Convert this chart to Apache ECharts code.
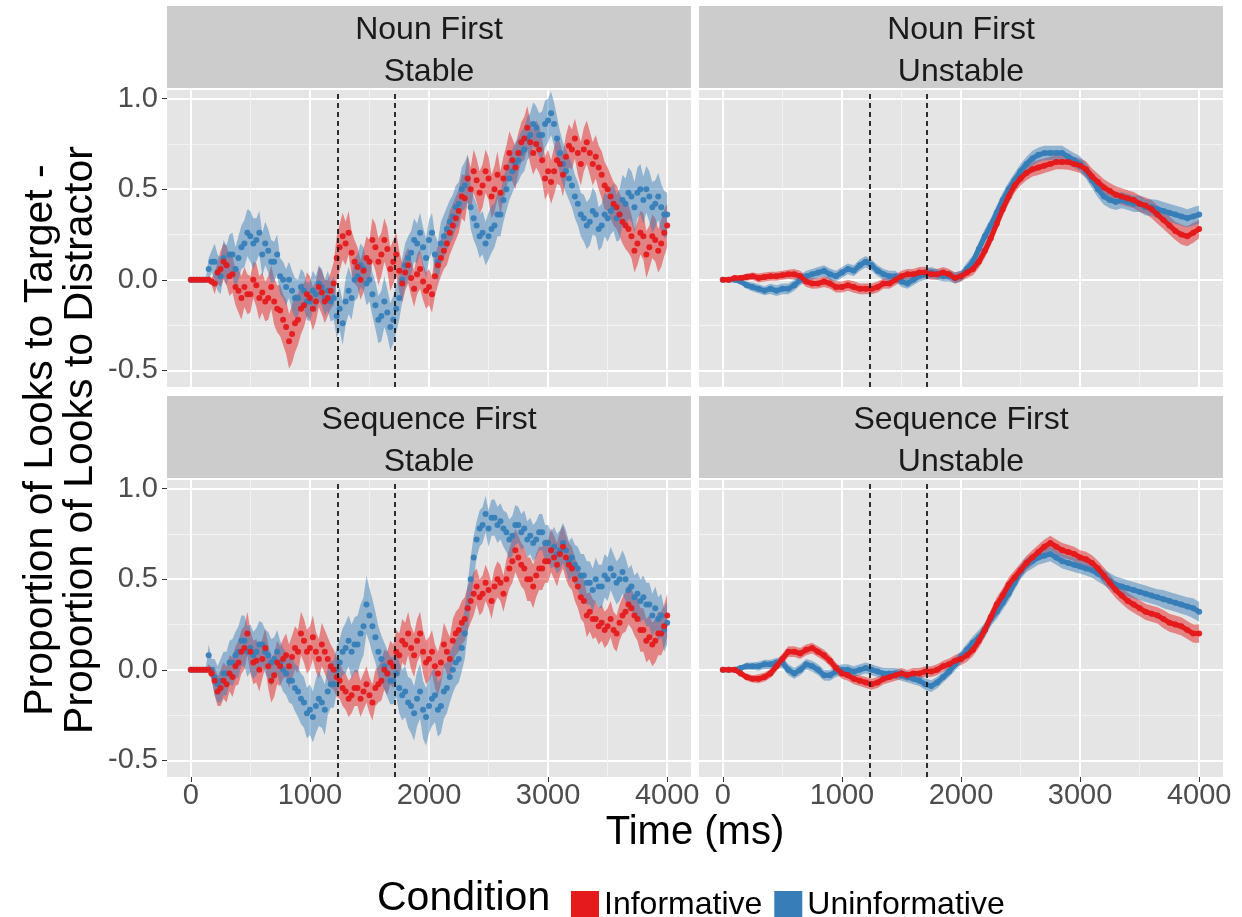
<!DOCTYPE html>
<html><head><meta charset="utf-8">
<script src="https://cdn.jsdelivr.net/npm/echarts@6/dist/echarts.min.js"></script>
<style>html,body{margin:0;padding:0;background:#fff}#chart{width:1242px;height:917px}</style>
</head><body><div id="chart"></div>
<script>
// ---------------- DATA ----------------
// 50 ms samples (Unstable panels, and CI widths of Stable panels)
const times = [0,50,100,150,200,250,300,350,400,450,
  500,550,600,650,700,750,800,850,900,950,
  1000,1050,1100,1150,1200,1250,1300,1350,1400,1450,
  1500,1550,1600,1650,1700,1750,1800,1850,1900,1950,
  2000,2050,2100,2150,2200,2250,2300,2350,2400,2450,
  2500,2550,2600,2650,2700,2750,2800,2850,2900,2950,
  3000,3050,3100,3150,3200,3250,3300,3350,3400,3450,
  3500,3550,3600,3650,3700,3750,3800,3850,3900,3950,
  4000];
// 25 ms samples (Stable panels)
const timesFine = [0,25,50,75,100,125,150,175,
  200,225,250,275,300,325,350,375,
  400,425,450,475,500,525,550,575,
  600,625,650,675,700,725,750,775,
  800,825,850,875,900,925,950,975,
  1000,1025,1050,1075,1100,1125,1150,1175,
  1200,1225,1250,1275,1300,1325,1350,1375,
  1400,1425,1450,1475,1500,1525,1550,1575,
  1600,1625,1650,1675,1700,1725,1750,1775,
  1800,1825,1850,1875,1900,1925,1950,1975,
  2000,2025,2050,2075,2100,2125,2150,2175,
  2200,2225,2250,2275,2300,2325,2350,2375,
  2400,2425,2450,2475,2500,2525,2550,2575,
  2600,2625,2650,2675,2700,2725,2750,2775,
  2800,2825,2850,2875,2900,2925,2950,2975,
  3000,3025,3050,3075,3100,3125,3150,3175,
  3200,3225,3250,3275,3300,3325,3350,3375,
  3400,3425,3450,3475,3500,3525,3550,3575,
  3600,3625,3650,3675,3700,3725,3750,3775,
  3800,3825,3850,3875,3900,3925,3950,3975,
  4000];
const xTicks = [0,1000,2000,3000,4000];
const yTicks = [-0.5,0,0.5,1.0];
const markerTimes = [1230,1715];
const orderLabels = ['Noun First','Noun First','Sequence First','Sequence First'];
const stabilityLabels = ['Stable','Unstable','Stable','Unstable'];
const conditionNames = ['Informative','Uninformative'];

// Noun First / Stable (25 ms)
const nfsInf = [0,0,0,0,0,0,0,-0.01,
  -0.02,0.04,0.06,0.1,0.08,0.02,0.03,-0.04,
  -0.06,-0.1,-0.04,-0.08,-0.08,0.0,-0.03,-0.1,
  -0.07,-0.12,-0.1,-0.04,-0.12,-0.16,-0.17,-0.22,
  -0.26,-0.34,-0.3,-0.24,-0.22,-0.16,-0.14,-0.08,
  -0.1,-0.16,-0.12,-0.04,-0.07,-0.12,-0.1,-0.06,
  -0.02,0.12,0.18,0.24,0.2,0.26,0.15,0.1,
  0.07,0.0,0.05,0.12,0.1,0.22,0.18,0.1,
  0.14,0.22,0.17,0.06,0.1,0.14,0.05,-0.02,
  0.04,0.08,0.01,-0.05,0.03,0.06,-0.01,-0.06,
  -0.04,-0.08,0.02,0.08,0.12,0.16,0.2,0.26,
  0.3,0.34,0.38,0.46,0.45,0.56,0.5,0.6,
  0.55,0.48,0.52,0.6,0.56,0.46,0.5,0.58,
  0.48,0.56,0.62,0.7,0.66,0.62,0.7,0.76,
  0.78,0.84,0.76,0.7,0.75,0.72,0.66,0.56,
  0.6,0.54,0.6,0.66,0.64,0.58,0.68,0.74,
  0.72,0.78,0.7,0.64,0.72,0.76,0.7,0.64,
  0.68,0.62,0.58,0.52,0.5,0.46,0.42,0.4,
  0.36,0.32,0.3,0.28,0.24,0.16,0.2,0.26,
  0.24,0.14,0.18,0.24,0.22,0.16,0.2,0.26,
  0.3];
const nfsInfCI = [0,0,0,0.02,0.06,0.1,0.11,0.1,0.12,0.11,
  0.1,0.12,0.11,0.12,0.13,0.14,0.15,0.16,0.14,0.12,
  0.12,0.11,0.12,0.1,0.12,0.13,0.12,0.12,0.11,0.12,
  0.12,0.13,0.12,0.12,0.12,0.11,0.1,0.1,0.11,0.1,
  0.1,0.11,0.1,0.12,0.12,0.12,0.13,0.12,0.12,0.12,
  0.12,0.13,0.12,0.12,0.12,0.11,0.12,0.12,0.13,0.12,
  0.12,0.13,0.12,0.12,0.11,0.12,0.12,0.12,0.12,0.13,
  0.12,0.12,0.12,0.13,0.12,0.12,0.13,0.12,0.12,0.13,
  0.12];
const nfsUninf = [0,0,0,0,0,0,0.06,0.1,
  0.1,0.04,0.02,0.12,0.08,0.14,0.14,0.06,
  0.12,0.18,0.2,0.26,0.24,0.2,0.22,0.26,
  0.14,0.2,0.16,0.1,0.1,0.14,0.02,0.0,
  -0.04,0.0,-0.06,-0.1,-0.1,-0.04,-0.06,-0.12,
  -0.12,-0.06,-0.08,-0.02,-0.04,-0.1,-0.06,-0.12,
  -0.1,-0.2,-0.16,-0.24,-0.12,-0.06,-0.1,0.0,
  0.02,0.08,0.06,-0.02,0.0,-0.08,-0.14,-0.22,
  -0.2,-0.12,-0.18,-0.26,-0.22,-0.16,-0.1,0.0,
  0.08,0.12,0.15,0.22,0.2,0.26,0.18,0.12,
  0.22,0.26,0.14,0.1,0.2,0.24,0.28,0.32,
  0.35,0.4,0.42,0.5,0.52,0.56,0.4,0.34,
  0.3,0.24,0.26,0.2,0.24,0.28,0.3,0.36,
  0.36,0.44,0.5,0.56,0.6,0.64,0.66,0.7,
  0.72,0.78,0.8,0.86,0.84,0.8,0.8,0.86,
  0.88,0.92,0.86,0.78,0.7,0.64,0.6,0.56,
  0.52,0.46,0.42,0.36,0.34,0.3,0.32,0.38,
  0.36,0.28,0.3,0.36,0.34,0.38,0.4,0.34,
  0.36,0.44,0.42,0.48,0.46,0.4,0.48,0.5,
  0.44,0.5,0.46,0.4,0.42,0.46,0.4,0.36,
  0.36];
const nfsUninfCI = [0,0,0,0.06,0.1,0.1,0.11,0.12,0.12,0.13,
  0.14,0.12,0.12,0.12,0.11,0.1,0.1,0.11,0.1,0.1,
  0.11,0.1,0.1,0.11,0.12,0.12,0.13,0.12,0.12,0.12,
  0.12,0.13,0.14,0.13,0.13,0.12,0.12,0.12,0.11,0.11,
  0.11,0.11,0.12,0.12,0.12,0.12,0.13,0.12,0.12,0.12,
  0.13,0.12,0.12,0.12,0.12,0.12,0.12,0.12,0.12,0.13,
  0.12,0.12,0.12,0.12,0.12,0.12,0.13,0.13,0.12,0.12,
  0.13,0.13,0.14,0.14,0.14,0.14,0.13,0.14,0.13,0.13,
  0.12];

// Noun First / Unstable (50 ms)
const nfuInf = [0,0,0.01,0.01,0.015,0.02,0.01,0.015,0.02,0.02,
  0.025,0.03,0.03,0.02,-0.01,-0.02,-0.02,-0.01,-0.02,-0.04,
  -0.04,-0.03,-0.04,-0.05,-0.05,-0.05,-0.04,-0.02,-0.02,0.0,
  0.02,0.03,0.03,0.04,0.04,0.03,0.03,0.04,0.03,0.01,
  0.02,0.04,0.06,0.1,0.16,0.23,0.31,0.39,0.46,0.52,
  0.56,0.59,0.61,0.62,0.63,0.64,0.65,0.65,0.65,0.64,
  0.63,0.61,0.57,0.54,0.51,0.49,0.47,0.46,0.45,0.44,
  0.42,0.41,0.39,0.36,0.33,0.3,0.27,0.25,0.24,0.26,
  0.28];
const nfuInfCI = [0,0,0.01,0.015,0.02,0.02,0.025,0.025,0.025,0.025,
  0.025,0.025,0.03,0.03,0.03,0.03,0.028,0.03,0.03,0.03,
  0.03,0.03,0.032,0.03,0.03,0.03,0.03,0.028,0.03,0.03,
  0.03,0.03,0.03,0.03,0.032,0.03,0.03,0.03,0.03,0.03,
  0.03,0.03,0.035,0.035,0.04,0.04,0.04,0.04,0.042,0.04,
  0.04,0.04,0.04,0.042,0.04,0.04,0.04,0.04,0.042,0.04,
  0.04,0.045,0.045,0.045,0.045,0.045,0.046,0.045,0.045,0.045,
  0.045,0.045,0.05,0.05,0.05,0.05,0.05,0.055,0.055,0.055,
  0.05];
const nfuUninf = [0,0,0,-0.01,-0.03,-0.04,-0.05,-0.06,-0.05,-0.06,
  -0.05,-0.05,-0.03,0.0,0.02,0.03,0.04,0.05,0.03,0.02,
  0.04,0.06,0.05,0.08,0.1,0.08,0.05,0.03,0.02,0.02,
  -0.01,-0.02,0.0,0.02,0.03,0.04,0.03,0.02,0.02,0.01,
  0.02,0.06,0.1,0.17,0.24,0.3,0.37,0.44,0.5,0.55,
  0.6,0.64,0.67,0.69,0.7,0.7,0.7,0.7,0.68,0.66,
  0.64,0.6,0.55,0.5,0.46,0.44,0.43,0.44,0.43,0.42,
  0.42,0.4,0.4,0.39,0.38,0.37,0.36,0.35,0.34,0.35,
  0.36];
const nfuUninfCI = [0,0,0.01,0.015,0.02,0.025,0.025,0.025,0.028,0.03,
  0.03,0.03,0.03,0.03,0.03,0.03,0.03,0.03,0.032,0.03,
  0.03,0.03,0.03,0.032,0.032,0.03,0.03,0.03,0.03,0.03,
  0.03,0.03,0.03,0.03,0.03,0.03,0.03,0.03,0.03,0.03,
  0.03,0.035,0.035,0.04,0.04,0.04,0.042,0.04,0.04,0.04,
  0.04,0.04,0.042,0.04,0.04,0.04,0.04,0.04,0.04,0.04,
  0.042,0.042,0.045,0.045,0.045,0.045,0.045,0.045,0.045,0.045,
  0.045,0.045,0.045,0.05,0.05,0.05,0.05,0.05,0.05,0.05,
  0.05];

// Sequence First / Stable (25 ms)
const sfsInf = [0,0,0,0,0,0,0,-0.02,
  -0.06,-0.12,-0.1,-0.06,-0.08,-0.02,-0.04,0.02,
  0.04,0.1,0.12,0.2,0.1,0.04,0.05,0.0,
  0.06,0.12,0.02,-0.06,-0.03,0.04,0.02,0.06,
  0.08,0.02,0.07,0.12,0.1,0.2,0.16,0.1,
  0.12,0.18,0.1,0.06,0.14,0.1,0.06,0.02,
  0.0,-0.04,-0.06,-0.1,-0.12,-0.16,-0.14,-0.1,
  -0.1,-0.16,-0.12,-0.08,-0.14,-0.18,-0.1,-0.08,
  -0.06,0.0,-0.02,0.04,0.02,0.1,0.08,0.16,
  0.14,0.2,0.12,0.08,0.16,0.2,0.1,0.04,
  0.06,0.1,0.02,-0.02,0.04,0.14,0.1,0.06,
  0.16,0.2,0.22,0.26,0.28,0.34,0.38,0.42,
  0.46,0.4,0.42,0.48,0.44,0.38,0.46,0.5,
  0.48,0.42,0.5,0.56,0.6,0.66,0.62,0.58,
  0.56,0.5,0.5,0.46,0.52,0.56,0.56,0.6,
  0.6,0.66,0.62,0.58,0.64,0.68,0.62,0.58,
  0.56,0.5,0.46,0.4,0.38,0.3,0.32,0.28,
  0.28,0.24,0.26,0.22,0.24,0.28,0.22,0.2,
  0.26,0.3,0.32,0.36,0.34,0.3,0.28,0.22,
  0.22,0.16,0.18,0.14,0.16,0.2,0.2,0.24,
  0.3];
const sfsInfCI = [0,0,0,0.03,0.08,0.1,0.1,0.11,0.12,0.12,
  0.12,0.12,0.11,0.12,0.12,0.11,0.12,0.12,0.12,0.12,
  0.12,0.11,0.12,0.12,0.11,0.1,0.1,0.1,0.1,0.1,
  0.1,0.1,0.11,0.12,0.12,0.12,0.12,0.12,0.12,0.12,
  0.12,0.12,0.12,0.12,0.12,0.12,0.12,0.12,0.1,0.1,
  0.1,0.1,0.1,0.11,0.12,0.12,0.12,0.12,0.12,0.12,
  0.12,0.12,0.12,0.12,0.12,0.12,0.12,0.11,0.1,0.1,
  0.1,0.1,0.1,0.11,0.11,0.12,0.12,0.12,0.12,0.12,
  0.12];
const sfsUninf = [0,0,0,0,0,0,0.08,0.0,
  -0.04,-0.08,-0.06,-0.02,-0.02,0.04,0.04,0.08,
  0.1,0.16,0.16,0.1,0.12,0.08,0.1,0.14,
  0.14,0.1,0.08,0.04,0.06,0.1,0.04,0.0,
  -0.02,-0.06,-0.06,-0.1,-0.12,-0.16,-0.18,-0.24,
  -0.22,-0.26,-0.2,-0.16,-0.18,-0.22,-0.12,-0.08,
  -0.08,0.0,0.04,0.1,0.12,0.16,0.1,0.14,
  0.14,0.2,0.24,0.36,0.3,0.24,0.18,0.1,
  0.06,0.02,-0.02,-0.06,-0.06,-0.02,-0.1,-0.14,
  -0.12,-0.18,-0.2,-0.24,-0.16,-0.12,-0.22,-0.26,
  -0.2,-0.16,-0.14,-0.22,-0.2,-0.12,-0.1,-0.04,
  0.0,0.04,0.06,0.12,0.2,0.34,0.5,0.62,
  0.72,0.78,0.8,0.86,0.78,0.84,0.84,0.8,
  0.82,0.78,0.76,0.72,0.74,0.8,0.8,0.76,
  0.78,0.72,0.74,0.7,0.72,0.76,0.76,0.7,
  0.7,0.66,0.68,0.64,0.66,0.7,0.66,0.6,
  0.62,0.58,0.56,0.52,0.52,0.48,0.48,0.44,
  0.5,0.46,0.46,0.52,0.5,0.56,0.52,0.48,
  0.5,0.54,0.5,0.44,0.46,0.4,0.42,0.38,
  0.4,0.36,0.36,0.3,0.34,0.28,0.3,0.22,
  0.26];
const sfsUninfCI = [0,0,0,0.06,0.1,0.12,0.12,0.13,0.14,0.14,
  0.13,0.13,0.12,0.13,0.12,0.12,0.12,0.13,0.14,0.14,
  0.14,0.15,0.14,0.13,0.13,0.13,0.14,0.15,0.16,0.16,
  0.15,0.14,0.13,0.13,0.13,0.14,0.14,0.15,0.15,0.16,
  0.15,0.15,0.15,0.14,0.13,0.13,0.14,0.12,0.1,0.1,
  0.1,0.1,0.1,0.11,0.11,0.1,0.1,0.1,0.1,0.1,
  0.1,0.11,0.11,0.11,0.11,0.12,0.12,0.12,0.12,0.12,
  0.12,0.12,0.12,0.12,0.12,0.12,0.12,0.12,0.12,0.12,
  0.12];

// Sequence First / Unstable (50 ms)
const sfuInf = [0,0,0,-0.02,-0.04,-0.05,-0.05,-0.04,-0.02,0.02,
  0.06,0.1,0.1,0.09,0.11,0.12,0.1,0.08,0.05,0.01,
  -0.02,-0.03,-0.05,-0.06,-0.07,-0.08,-0.07,-0.05,-0.04,-0.03,
  -0.02,-0.03,-0.02,-0.02,-0.01,-0.01,0.0,0.02,0.03,0.05,
  0.06,0.08,0.11,0.16,0.22,0.29,0.36,0.41,0.47,0.51,
  0.55,0.59,0.62,0.65,0.68,0.7,0.68,0.66,0.65,0.64,
  0.62,0.61,0.59,0.56,0.52,0.48,0.44,0.41,0.38,0.36,
  0.34,0.32,0.31,0.3,0.28,0.26,0.25,0.24,0.22,0.2,
  0.2];
const sfuInfCI = [0,0,0.01,0.015,0.02,0.02,0.025,0.025,0.025,0.03,
  0.03,0.03,0.03,0.03,0.03,0.03,0.03,0.03,0.03,0.03,
  0.03,0.03,0.03,0.03,0.03,0.03,0.03,0.03,0.03,0.03,
  0.03,0.03,0.03,0.03,0.03,0.03,0.03,0.03,0.032,0.032,
  0.035,0.035,0.035,0.04,0.04,0.04,0.04,0.04,0.04,0.04,
  0.04,0.04,0.04,0.04,0.04,0.04,0.04,0.04,0.04,0.04,
  0.04,0.042,0.042,0.042,0.045,0.045,0.045,0.045,0.045,0.045,
  0.045,0.045,0.045,0.045,0.05,0.05,0.05,0.05,0.05,0.05,
  0.05];
const sfuUninf = [0,0,0,0.01,0.02,0.02,0.02,0.03,0.03,0.04,
  0.04,0.0,-0.02,0.0,0.03,0.02,0.0,-0.03,-0.03,-0.01,
  0.0,0.0,-0.01,0.0,0.01,0.0,-0.01,-0.02,-0.02,-0.02,
  -0.03,-0.04,-0.05,-0.06,-0.08,-0.09,-0.07,-0.04,-0.01,0.03,
  0.07,0.11,0.15,0.18,0.22,0.28,0.32,0.37,0.42,0.48,
  0.54,0.58,0.6,0.62,0.63,0.64,0.62,0.6,0.59,0.58,
  0.57,0.56,0.55,0.53,0.51,0.49,0.47,0.46,0.45,0.44,
  0.43,0.42,0.41,0.4,0.39,0.38,0.37,0.36,0.35,0.34,
  0.32];
const sfuUninfCI = [0,0,0.01,0.015,0.02,0.02,0.025,0.025,0.025,0.025,
  0.03,0.03,0.03,0.03,0.03,0.03,0.03,0.03,0.03,0.03,
  0.03,0.03,0.03,0.03,0.03,0.03,0.03,0.03,0.03,0.03,
  0.03,0.03,0.03,0.03,0.032,0.032,0.032,0.03,0.03,0.035,
  0.035,0.035,0.035,0.04,0.04,0.04,0.04,0.04,0.04,0.04,
  0.04,0.04,0.04,0.04,0.04,0.04,0.04,0.04,0.04,0.04,
  0.04,0.04,0.042,0.042,0.042,0.045,0.045,0.045,0.045,0.045,
  0.045,0.045,0.045,0.045,0.05,0.05,0.05,0.05,0.05,0.055,
  0.055];

// ---------------- CHART ----------------
const RED = '#E41A1C', BLUE = '#377EB8';
const RED_BAND = 'rgba(228,26,28,0.48)', BLUE_BAND = 'rgba(55,126,184,0.48)';
const FONT = 'Liberation Sans, Arial, Helvetica, sans-serif';

const panels = [
  {t: timesFine, inf: nfsInf, infCI: nfsInfCI, un: nfsUninf, unCI: nfsUninfCI, line: false},
  {t: times, inf: nfuInf, infCI: nfuInfCI, un: nfuUninf, unCI: nfuUninfCI, line: true},
  {t: timesFine, inf: sfsInf, infCI: sfsInfCI, un: sfsUninf, unCI: sfsUninfCI, line: false},
  {t: times, inf: sfuInf, infCI: sfuInfCI, un: sfuUninf, unCI: sfuUninfCI, line: true}
];
const PW = 524, PH = 297;
const pos = [{l:167,t:90},{l:699,t:90},{l:167,t:480},{l:699,t:480}];

const grids = [], xAxes = [], yAxes = [], series = [], graphics = [];

// half-width of the band for sample i (CI arrays are on the 50 ms grid)
function hwAt(tArr, ci, i) {
  return tArr.length === ci.length ? ci[i] : ci[Math.floor(i / 2)];
}
function ribbon(gi, tArr, mean, ci, fill) {
  return {
    type: 'custom', xAxisIndex: gi, yAxisIndex: gi, silent: true, z: 1, clip: true,
    data: tArr.map((t, i) => [t, mean[i] - hwAt(tArr, ci, i), mean[i] + hwAt(tArr, ci, i)]),
    encode: {x: 0, y: [1, 2]},
    renderItem: function (params, api) {
      if (params.dataIndex !== 0) return null;
      const up = [], lo = [];
      for (let i = 0; i < tArr.length; i++) {
        const h = hwAt(tArr, ci, i);
        up.push(api.coord([tArr[i], mean[i] + h]));
        lo.push(api.coord([tArr[i], mean[i] - h]));
      }
      return {type: 'polygon', shape: {points: up.concat(lo.reverse())}, style: {fill: fill}};
    }
  };
}

panels.forEach((p, gi) => {
  const isLeft = gi % 2 === 0, isBottom = gi >= 2;
  grids.push({left: pos[gi].l, top: pos[gi].t, width: PW, height: PH, containLabel: false,
    outerBoundsMode: 'none', show: true, backgroundColor: '#E5E5E5', borderWidth: 0});
  xAxes.push({
    type: 'value', gridIndex: gi, min: -200, max: 4200, splitNumber: 5,
    axisLine: {show: false, onZero: false},
    axisTick: {show: isBottom, length: 5, lineStyle: {color: '#333', width: 1}, customValues: xTicks},
    axisLabel: {show: isBottom, customValues: xTicks, fontSize: 29, color: '#4D4D4D', margin: 4, fontFamily: FONT,
      formatter: v => String(v)},
    splitLine: {show: true, lineStyle: {color: '#FFFFFF', width: 2}},
    minorTick: {show: false, splitNumber: 2},
    minorSplitLine: {show: true, lineStyle: {color: '#F2F2F2', width: 1}}
  });
  yAxes.push({
    type: 'value', gridIndex: gi, min: -0.592, max: 1.048, splitNumber: 3,
    axisLine: {show: false, onZero: false},
    axisTick: {show: isLeft, length: 5, lineStyle: {color: '#333', width: 1}, customValues: yTicks},
    axisLabel: {show: isLeft, customValues: yTicks, fontSize: 29, color: '#4D4D4D', margin: 9, fontFamily: FONT,
      formatter: v => Number(v).toFixed(1)},
    splitLine: {show: true, lineStyle: {color: '#FFFFFF', width: 2}},
    minorTick: {show: false, splitNumber: 2},
    minorSplitLine: {show: true, lineStyle: {color: '#F2F2F2', width: 1}}
  });
  series.push(ribbon(gi, p.t, p.inf, p.infCI, RED_BAND));
  series.push(ribbon(gi, p.t, p.un, p.unCI, BLUE_BAND));
  if (p.line) {
    series.push({type: 'line', name: conditionNames[1], xAxisIndex: gi, yAxisIndex: gi, z: 2, showSymbol: false, silent: true,
      data: p.t.map((t, i) => [t, p.un[i]]), lineStyle: {color: BLUE, width: 5}, itemStyle: {color: BLUE}});
    series.push({type: 'line', name: conditionNames[0], xAxisIndex: gi, yAxisIndex: gi, z: 3, showSymbol: false, silent: true,
      data: p.t.map((t, i) => [t, p.inf[i]]), lineStyle: {color: RED, width: 5}, itemStyle: {color: RED}});
  }
  series.push({type: 'scatter', name: conditionNames[1], xAxisIndex: gi, yAxisIndex: gi, z: 2, silent: true,
    symbolSize: 6, data: p.t.map((t, i) => [t, p.un[i]]),
    itemStyle: {color: BLUE, opacity: 0.95}});
  series.push({type: 'scatter', name: conditionNames[0], xAxisIndex: gi, yAxisIndex: gi, z: 3, silent: true,
    symbolSize: 6, data: p.t.map((t, i) => [t, p.inf[i]]),
    itemStyle: {color: RED, opacity: 0.95},
    markLine: {symbol: 'none', silent: true, label: {show: false}, animation: false,
      lineStyle: {color: '#1A1A1A', width: 1.8, type: [5, 4]},
      data: markerTimes.map(v => ({xAxis: v}))}
  });
  // facet strip
  graphics.push({type: 'rect', left: pos[gi].l, top: pos[gi].t - 84, z: 0,
    shape: {width: PW, height: 82}, style: {fill: '#CCCCCC'}});
  graphics.push({type: 'text', x: pos[gi].l + PW / 2, y: pos[gi].t - 39, z: 1,
    style: {text: orderLabels[gi] + '\n' + stabilityLabels[gi], fontSize: 32, lineHeight: 42,
      fill: '#1A1A1A', align: 'center', verticalAlign: 'middle', fontFamily: FONT}});
});

// axis titles
graphics.push({type: 'text', x: 695, y: 833, style: {text: 'Time (ms)', fontSize: 40, fill: '#000',
  align: 'center', verticalAlign: 'middle', fontFamily: FONT}});
graphics.push({type: 'text', x: 61, y: 440, rotation: Math.PI / 2,
  style: {text: 'Proportion of Looks to Target -\nProportion of Looks to Distractor', fontSize: 41, lineHeight: 40,
    fill: '#000', align: 'center', verticalAlign: 'middle', fontFamily: FONT}});
// legend title
graphics.push({type: 'text', x: 377, y: 899, style: {text: 'Condition', fontSize: 41, fill: '#000',
  align: 'left', verticalAlign: 'middle', fontFamily: FONT}});

const chart = echarts.init(document.getElementById('chart'), null, {renderer: 'canvas'});
chart.setOption({
  animation: false,
  backgroundColor: '#FFFFFF',
  grid: grids, xAxis: xAxes, yAxis: yAxes, series: series, graphic: graphics,
  legend: {
    left: 566, top: 884, itemWidth: 28, itemHeight: 28, itemGap: 12, selectedMode: false,
    textStyle: {fontSize: 32, color: '#000', fontFamily: FONT},
    data: [
      {name: conditionNames[0], icon: 'rect', itemStyle: {color: RED, opacity: 1}},
      {name: conditionNames[1], icon: 'rect', itemStyle: {color: BLUE, opacity: 1}}
    ]
  }
});
</script></body></html>
